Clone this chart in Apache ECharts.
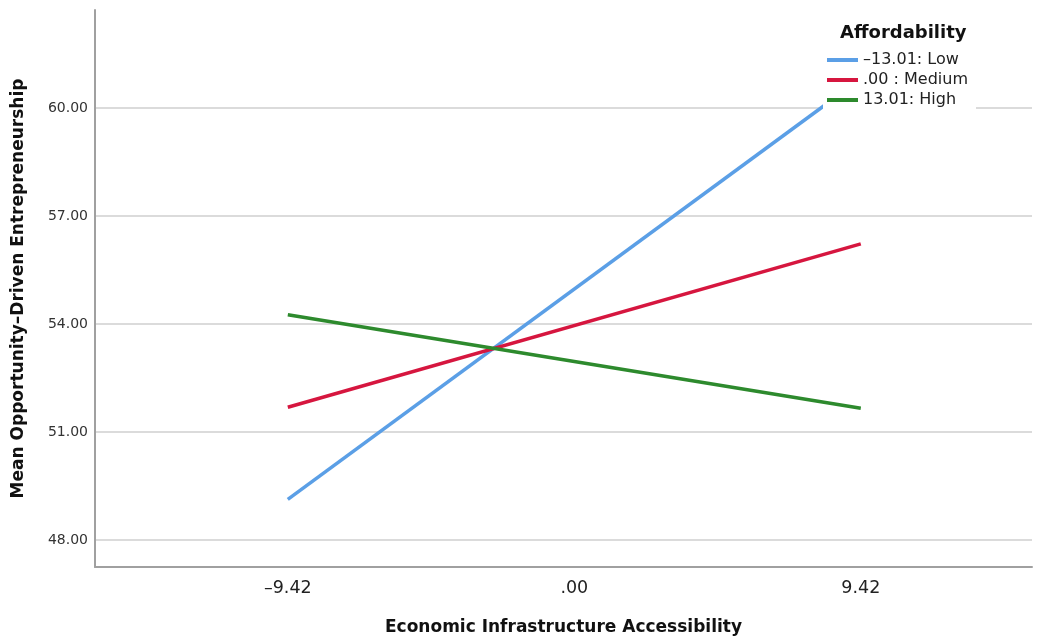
<!DOCTYPE html>
<html>
<head>
<meta charset="utf-8">
<script src="https://cdn.jsdelivr.net/npm/echarts@6/dist/echarts.min.js"></script>
<style>
  html, body { margin: 0; padding: 0; background: #fff; }
  #chart { width: 1042px; height: 639px; }
</style>
</head>
<body>
<div id="chart"></div>
<script>
// Simple-slopes plot: predicted mean at low / mean / high accessibility
const xPoints = [-9.42, 9.42];
const xTickValues = [-9.42, 0, 9.42];
const yTickValues = [48, 51, 54, 57, 60];

const seriesNames = ['–13.01: Low', '.00 : Medium', '13.01: High'];
const lowValues = [49.13, 60.82];
const mediumValues = [51.69, 56.23];
const highValues = [54.26, 51.66];
const seriesColors = ['#5b9fe6', '#d6163f', '#2d8a2d'];

const FONT = '"DejaVu Sans", "Liberation Sans", sans-serif';

function fmtX(v) {
  if (Math.abs(v) < 1e-9) return '.00';
  const s = Math.abs(v).toFixed(2);
  return (v < 0 ? '–' : '') + s;
}

function pairs(values) {
  return xPoints.map((x, i) => [x, values[i]]);
}

const valueSets = [lowValues, mediumValues, highValues];

const chart = echarts.init(document.getElementById('chart'), null, { renderer: 'canvas' });

chart.setOption({
  animation: false,
  backgroundColor: '#ffffff',
  grid: { left: 95, right: 10, top: 10, bottom: 72, containLabel: false, outerBoundsMode: 'none' },
  title: {
    text: 'Affordability',
    left: 835,
    top: 19,
    textStyle: { fontFamily: FONT, fontSize: 18, fontWeight: 'bold', color: '#111' }
  },
  legend: {
    data: seriesNames,
    orient: 'vertical',
    left: 823,
    top: 50,
    padding: [2, 8, 4, 4],
    itemWidth: 31,
    itemHeight: 4,
    itemGap: 4,
    icon: 'rect',
    backgroundColor: '#ffffff',
    z: 10,
    textStyle: { fontFamily: FONT, fontSize: 16, color: '#222', padding: [0, 0, 0, 0] }
  },
  xAxis: {
    type: 'value',
    min: -15.76,
    max: 15.05,
    name: 'Economic Infrastructure Accessibility',
    nameLocation: 'middle',
    nameGap: 52,
    nameTextStyle: { fontFamily: FONT, fontSize: 17, fontWeight: 'bold', color: '#111' },
    axisLine: { show: true, onZero: false, lineStyle: { color: '#a0a0a0', width: 2 } },
    axisTick: { show: false, customValues: xTickValues },
    splitLine: { show: false },
    axisLabel: {
      customValues: xTickValues,
      formatter: fmtX,
      fontFamily: FONT,
      fontSize: 17.5,
      color: '#222',
      margin: 12
    }
  },
  yAxis: {
    type: 'value',
    min: 47.25,
    max: 62.73,
    name: 'Mean Opportunity–Driven Entrepreneurship',
    nameLocation: 'middle',
    nameGap: 68,
    nameTextStyle: { fontFamily: FONT, fontSize: 17, fontWeight: 'bold', color: '#111' },
    axisLine: { show: true, onZero: false, lineStyle: { color: '#a0a0a0', width: 2 } },
    axisTick: { show: false, customValues: yTickValues },
    axisLabel: {
      customValues: yTickValues,
      formatter: v => v.toFixed(2),
      fontFamily: FONT,
      fontSize: 14,
      color: '#333',
      margin: 7
    },
    splitLine: {
      show: true,
      lineStyle: { color: '#cfcfcf', width: 1.5 }
    }
  },
  series: seriesNames.map((name, i) => ({
    name: name,
    type: 'line',
    data: pairs(valueSets[i]),
    showSymbol: false,
    symbol: 'none',
    color: seriesColors[i],
    lineStyle: { width: 3.5, color: seriesColors[i], cap: 'butt' },
    z: 3
  }))
});
</script>
</body>
</html>
